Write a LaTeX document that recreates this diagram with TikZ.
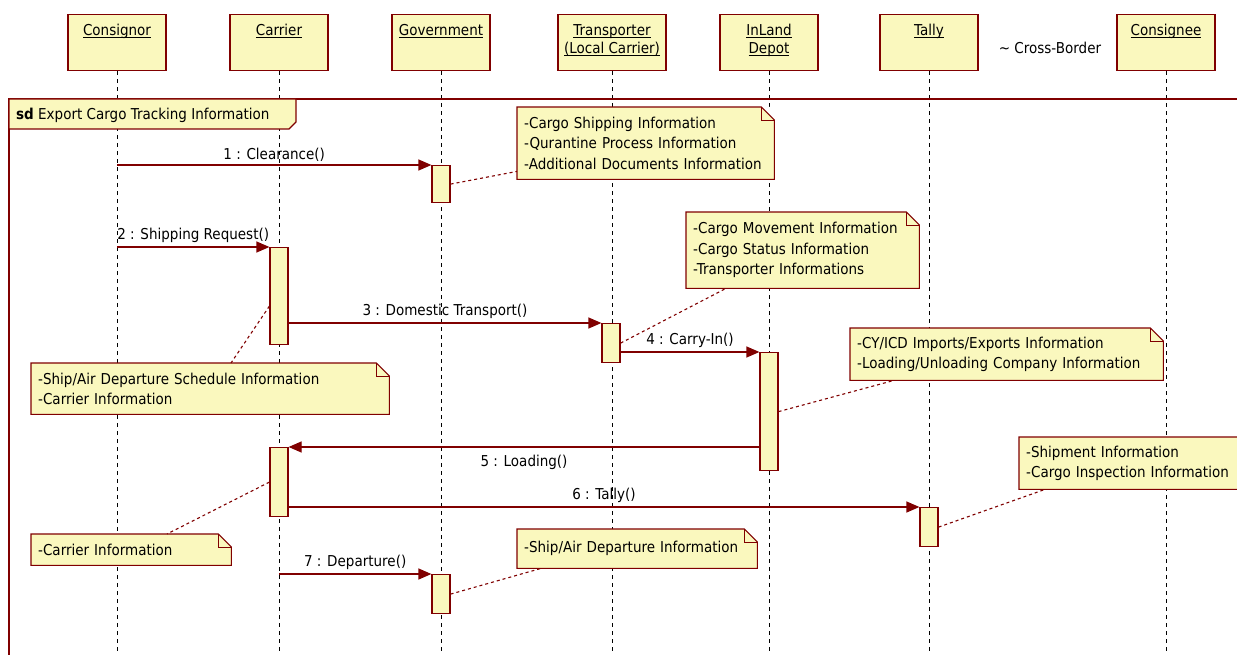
\documentclass[tikz,border=0pt]{standalone}
\usepackage{fontspec}
\setmainfont{DejaVu Sans}[FakeStretch=0.9]
\usetikzlibrary{arrows.meta}
\definecolor{umlred}{RGB}{128,0,0}
\definecolor{notefill}{RGB}{250,248,190}
\newcommand{\uname}[1]{\underline{\smash{#1}}}

\begin{document}
\begin{tikzpicture}[x=1pt,y=-1pt,
    every node/.style={font=\fontsize{15}{20.5}\selectfont},
    actor/.style={draw=umlred, fill=notefill, line width=1.2pt, anchor=north,
      minimum width=98pt, inner sep=0pt, text height=21pt, text depth=35pt,
      align=center, font=\fontsize{15}{18}\selectfont},
    actortwo/.style={actor, text height=39pt, text depth=17pt},
    lifeline/.style={draw=black, line width=1pt, dash pattern=on 4pt off 4pt},
    frame/.style={draw=umlred, line width=1.3pt},
    act/.style={draw=umlred, fill=notefill, line width=1.2pt, anchor=north,
      minimum width=18pt, inner sep=0pt},
    note/.style={anchor=north west, fill=notefill, align=left, inner xsep=7pt,
      inner ysep=0pt},
    notedge/.style={draw=umlred, line width=1.1pt},
    noteline/.style={draw=umlred, line width=1.1pt, dash pattern=on 3pt off 3pt},
    msg/.style={draw=umlred, line width=1.2pt, -{Triangle[length=13pt,width=11pt]}}
  ]
  \useasboundingbox (0,0) rectangle (1237,655);
  \clip (0,0) rectangle (1237,655);
  \fill[white] (0,0) rectangle (1237,655);

  % participants
  \node[actor] (consignor) at (117,14) {\uname{Consignor}};
  \node[actor] (carrier) at (279,14) {\uname{Carrier}};
  \node[actor] (govt) at (441,14) {\uname{Government}};
  \node[actortwo, minimum width=108pt] (transporter) at (612,14) {\uname{Transporter}\\\uname{(Local Carrier)}};
  \node[actortwo] (depot) at (769,14) {\uname{InLand}\\\uname{Depot}};
  \node[actor] (tally) at (929,14) {\uname{Tally}};
  \node[actor] (consignee) at (1166,14) {\uname{Consignee}};
  \node (crossborder) at (1050,48) {\textasciitilde{} Cross-Border};

  \foreach \p in {consignor,carrier,govt,transporter,depot,tally,consignee}
    \draw[lifeline] (\p.south) -- (\p.south |- 0,660);

  % frame
  \draw[frame] (9,660) -- (9,99) -- (1250,99);
  \draw[frame, fill=notefill] (9,99) -- (296,99) -- (296,122) -- (289,129) -- (9,129) -- cycle;
  \node[anchor=west, inner sep=0pt] (sdtitle) at (16,115) {\textbf{sd} Export Cargo Tracking Information};

  % activations
  \node[act, minimum height=37pt] (gov1) at (441,165) {};
  \node[act, minimum height=97pt] (cact1) at (279,247) {};
  \node[act, minimum height=39pt] (tact) at (611,323) {};
  \node[act, minimum height=118pt] (dact) at (769,352) {};
  \node[act, minimum height=69pt] (cact2) at (279,447) {};
  \node[act, minimum height=39pt] (tallyact) at (929,507) {};
  \node[act, minimum height=39pt] (gov2) at (441,574) {};

  % notes
  \node[note, text width=243pt, minimum height=72pt] (shipnote) at (517,107)
    {-Cargo Shipping Information\\-Qurantine Process Information\\-Additional Documents Information};
  \node[note, text width=219pt, minimum height=76pt] (movenote) at (686,212)
    {-Cargo Movement Information\\-Cargo Status Information\\-Transporter Informations};
  \node[note, text width=299pt, minimum height=52pt] (depotnote) at (850,328)
    {-CY/ICD Imports/Exports Information\\-Loading/Unloading Company Information};
  \node[note, text width=344pt, minimum height=51pt] (schednote) at (31,363)
    {-Ship/Air Departure Schedule Information\\-Carrier Information};
  \node[note, text width=186pt, minimum height=31pt] (carrnote) at (31,534)
    {-Carrier Information};
  \node[note, text width=226pt, minimum height=39pt] (departnote) at (517,529)
    {-Ship/Air Departure Information};
  \node[note, text width=221pt, minimum height=52pt] (inspnote) at (1019,437)
    {-Shipment Information\\-Cargo Inspection Information};
  \foreach \n in {shipnote,movenote,depotnote,schednote,carrnote,departnote,inspnote}{
    \fill[white] ([xshift=-13pt]\n.north east) -- (\n.north east) -- ([yshift=-13pt]\n.north east) -- cycle;
    \draw[notedge] (\n.north west) -- ([xshift=-13pt]\n.north east) -- ([yshift=-13pt]\n.north east)
      -- (\n.south east) -- (\n.south west) -- cycle;
    \draw[notedge, line width=0.8pt] ([xshift=-13pt]\n.north east) |- ([yshift=-13pt]\n.north east);
  }

  % messages
  \draw[msg] (consignor |- gov1.north west) -- (gov1.north west) node[midway, above] (m1) {1 : Clearance()};
  \draw[msg] (consignor |- cact1.north west) -- (cact1.north west) node[midway, above] (m2) {2 : Shipping Request()};
  \draw[msg] (cact1.east |- tact.north west) -- (tact.north west) node[midway, above] (m3) {3 : Domestic Transport()};
  \draw[msg] (tact.east |- dact.north west) -- (dact.north west) node[midway, above] (m4) {4 : Carry-In()};
  \draw[msg] (dact.west |- cact2.north east) -- (cact2.north east) node[midway, below=4pt] (m5) {5 : Loading()};
  \draw[msg] (cact2.east |- tallyact.north west) -- (tallyact.north west) node[midway, above] (m6) {6 : Tally()};
  \draw[msg] (carrier |- gov2.north west) -- (gov2.north west) node[midway, above] (m7) {7 : Departure()};

  % note links
  \draw[noteline] (gov1.east) -- ([yshift=8pt]shipnote.south west);
  \draw[noteline] (tact.east) -- ([xshift=40pt]movenote.south west);
  \draw[noteline] (dact.east) -- ([xshift=44pt]depotnote.south west);
  \draw[noteline] ([yshift=-10pt]cact1.west) -- ([xshift=200pt]schednote.north west);
  \draw[noteline] (cact2.west) -- ([xshift=136pt]carrnote.north west);
  \draw[noteline] (gov2.east) -- ([xshift=24pt]departnote.south west);
  \draw[noteline] (tallyact.east) -- ([xshift=26pt]inspnote.south west);
\end{tikzpicture}
\end{document}
